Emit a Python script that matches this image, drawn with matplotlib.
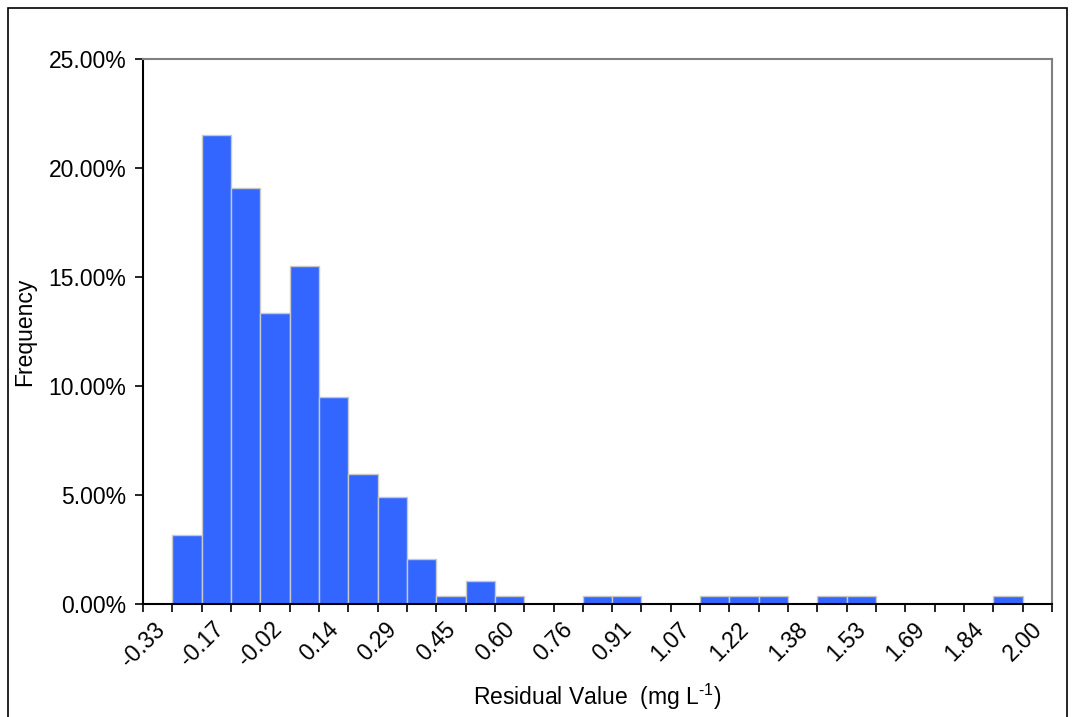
import matplotlib.pyplot as plt
import matplotlib.patches as mpatches
import numpy as np

plt.rcParams['font.family'] = ['Liberation Sans', 'DejaVu Sans']
plt.rcParams['mathtext.fontset'] = 'custom'
plt.rcParams['mathtext.rm'] = 'Liberation Sans'
plt.rcParams['mathtext.default'] = 'regular'

# histogram bins (31 bins between -0.33 and 2.00), frequency in percent
bin_lo = -0.33
bin_hi = 2.00
freq = [0.0, 3.17, 21.5, 19.1, 13.36, 15.52, 9.5, 5.98, 4.92, 2.06,
        0.35, 1.05, 0.35, 0.0, 0.0, 0.35, 0.35, 0.0, 0.0, 0.35,
        0.35, 0.35, 0.0, 0.35, 0.35, 0.0, 0.0, 0.0, 0.0, 0.35, 0.0]
tick_labels = ['-0.33', '-0.17', '-0.02', '0.14', '0.29', '0.45', '0.60', '0.76',
               '0.91', '1.07', '1.22', '1.38', '1.53', '1.69', '1.84', '2.00']
y_ticks = [0, 5, 10, 15, 20, 25]

n = len(freq)
edges = np.arange(n + 1)
fs = 16.5

fig = plt.figure(figsize=(10.75, 7.17), dpi=100)
ax = fig.add_axes([143 / 1075, 1 - 604 / 717, (1052 - 143) / 1075, (604 - 59) / 717])

ax.bar(edges[:-1], freq, width=1.0, align='edge', color='#3366FF',
       edgecolor='#C8C8C8', linewidth=1.0, zorder=2)

ax.set_xlim(0, n)
ax.set_ylim(0, 25)

ax.set_xticks(edges)
ax.set_xticklabels([tick_labels[i // 2] if i % 2 == 0 else '' for i in edges],
                   rotation=45, ha='center', va='top', fontsize=fs)
ax.set_yticks(y_ticks)
ax.set_yticklabels(['%.2f%%' % v for v in y_ticks], fontsize=fs)
ax.tick_params(axis='both', direction='out', length=6, width=1.2, colors='black')
ax.tick_params(axis='x', pad=4)
ax.tick_params(axis='y', pad=6)

ax.spines['left'].set_linewidth(1.5)
ax.spines['bottom'].set_linewidth(1.5)
for s in ['top', 'right']:
    ax.spines[s].set_color('#808080')
    ax.spines[s].set_linewidth(1.5)

ax.set_ylabel('Frequency', fontsize=fs)
ax.yaxis.set_label_coords(-0.118, 0.5)
ax.set_xlabel(r'Residual Value  (mg L$^{\text{-1}}$)', fontsize=fs)
ax.xaxis.set_label_coords(0.5, -0.142)

# outer frame
fig.patches.append(mpatches.Rectangle((8 / 1075, -0.01), (1067 - 8) / 1075, 1 - 8 / 717 + 0.01,
                                      transform=fig.transFigure, fill=False,
                                      edgecolor='black', linewidth=1.2))

fig.savefig('out.png', dpi=100)
